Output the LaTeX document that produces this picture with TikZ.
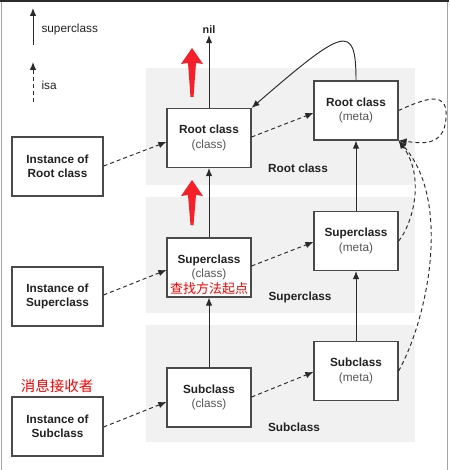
\documentclass[tikz,border=0pt]{standalone}
\usepackage{fontspec}
\setmainfont{Liberation Sans}
\newfontfamily\cjk{Noto Sans CJK SC}
\usetikzlibrary{arrows.meta}
\definecolor{boxline}{HTML}{4A4A4A}
\definecolor{band}{HTML}{F1F1F1}
\definecolor{lbl}{HTML}{222222}
\definecolor{sub}{HTML}{555555}
\definecolor{arr}{HTML}{2A2A2A}
\definecolor{redmark}{HTML}{F5202A}
\tikzset{
  cbox/.style={draw=boxline, line width=1.2pt, fill=white, minimum width=84pt, minimum height=59pt, inner sep=0pt, align=center, font=\fontsize{11.8}{14.5}\selectfont\bfseries, text=lbl},
  bandlbl/.style={font=\fontsize{11.8}{14}\selectfont\bfseries, text=lbl},
  supl/.style={draw=arr, line width=0.95pt, -{Latex[length=8pt,width=6.5pt]}},
  isal/.style={draw=arr, line width=0.95pt, dash pattern=on 4pt off 3pt, -{Latex[length=8pt,width=6.5pt]}},
  redtxt/.style={text=red, font=\cjk\fontsize{13}{15}\selectfont},
}
\newcommand{\subt}[1]{{\mdseries\color{sub}#1}}
\begin{document}
\begin{tikzpicture}[x=1pt,y=-1pt]
\useasboundingbox (0,0) rectangle (449,470);
% frame
\draw[gray!70, line width=0.8pt] (1,0) -- (1,470);
\draw[gray!70, line width=0.8pt] (447.5,0) -- (447.5,470);
\draw[arr, line width=2pt] (0,1) -- (449,1);
% bands
\fill[band] (146,68) rectangle (415,185);
\fill[band] (146,197) rectangle (415,313);
\fill[band] (146,325) rectangle (415,442);
% legend
\coordinate (l1a) at (33,45); \coordinate (l1b) at (33,8);
\draw[supl] (l1a) -- (l1b);
\node[anchor=west, font=\fontsize{11.8}{14}\selectfont, text=lbl] (lt1) at (38,29) {superclass};
\coordinate (l2a) at (33,102); \coordinate (l2b) at (33,62);
\draw[isal] (l2a) -- (l2b);
\node[anchor=west, font=\fontsize{11.8}{14}\selectfont, text=lbl] (lt2) at (38,85) {isa};
% boxes
\node[cbox] (rc) at (209,138) {Root class\\\subt{(class)}};
\node[cbox] (rm) at (356,110.5) {Root class\\\subt{(meta)}};
\node[cbox] (sc) at (209,267.5) {};
\node[font=\fontsize{11.8}{14}\selectfont\bfseries, text=lbl] (sct) at (209,260) {Superclass};
\node[font=\fontsize{11.8}{14}\selectfont, text=sub] (scs) at (209,274.5) {(class)};
\node[redtxt] (scr) at (209,288.5) {查找方法起点};
\node[cbox] (sm) at (356,241) {Superclass\\\subt{(meta)}};
\node[cbox] (bc) at (209,397.5) {Subclass\\\subt{(class)}};
\node[cbox] (bm) at (356,371) {Subclass\\\subt{(meta)}};
\node[cbox, minimum width=91pt] (ir) at (57.5,166.5) {Instance of\\Root class};
\node[cbox, minimum width=91pt] (is) at (57.5,296.5) {Instance of\\Superclass};
\node[cbox, minimum width=91pt] (ib) at (57.5,426.5) {Instance of\\Subclass};
\node[redtxt, font=\cjk\fontsize{14.5}{16}\selectfont] (recv) at (57,386) {消息接收者};
% band labels
\node[bandlbl] (bl1) at (298,168) {Root class};
\node[bandlbl] (bl2) at (300,297) {Superclass};
\node[bandlbl] (bl3) at (294,427) {Subclass};
% nil
\node[font=\fontsize{10.8}{12}\selectfont\bfseries, text=lbl, inner sep=1pt] (nil) at (209,30) {nil};
% superclass arrows
\draw[supl] (rc.north) -- (nil.south);
\draw[supl] (sc.north) -- (rc.south);
\draw[supl] (bc.north) -- (sc.south);
\draw[supl] (sm.north) -- (rm.south);
\draw[supl] (bm.north) -- (sm.south);
\draw[supl] (rm.north) .. controls (356,22) and (344,28) .. (rc.north east);
% isa arrows
\draw[isal] (ir.east |- 0,166) -- (rc.west |- 0,142);
\draw[isal] (is.east |- 0,295) -- (sc.west |- 0,270);
\draw[isal] (ib.east |- 0,427) -- (bc.west |- 0,402);
\draw[isal] (rc.east |- 0,137) -- (rm.west |- 0,113);
\draw[isal] (sc.east |- 0,266) -- (sm.west |- 0,242);
\draw[isal] (bc.east |- 0,397) -- (bm.west |- 0,372);
\draw[isal] (rm.east) .. controls (430,96) and (448,92) .. (446,118) .. controls (444,148) and (420,143) .. (rm.south east);
\draw[isal] (sm.east) .. controls (412,225) and (426,178) .. (rm.south east);
\draw[isal] (bm.east) .. controls (428,318) and (452,200) .. (rm.south east);
% red arrows
\fill[redmark] (192,48) -- (203,64) -- (196,63) -- (193.5,97) -- (190.5,97) -- (188,63) -- (181,64) -- cycle;
\fill[redmark] (192,180) -- (203,196) -- (196,195) -- (193.5,225) -- (190.5,225) -- (188,195) -- (181,196) -- cycle;
\end{tikzpicture}
\end{document}
